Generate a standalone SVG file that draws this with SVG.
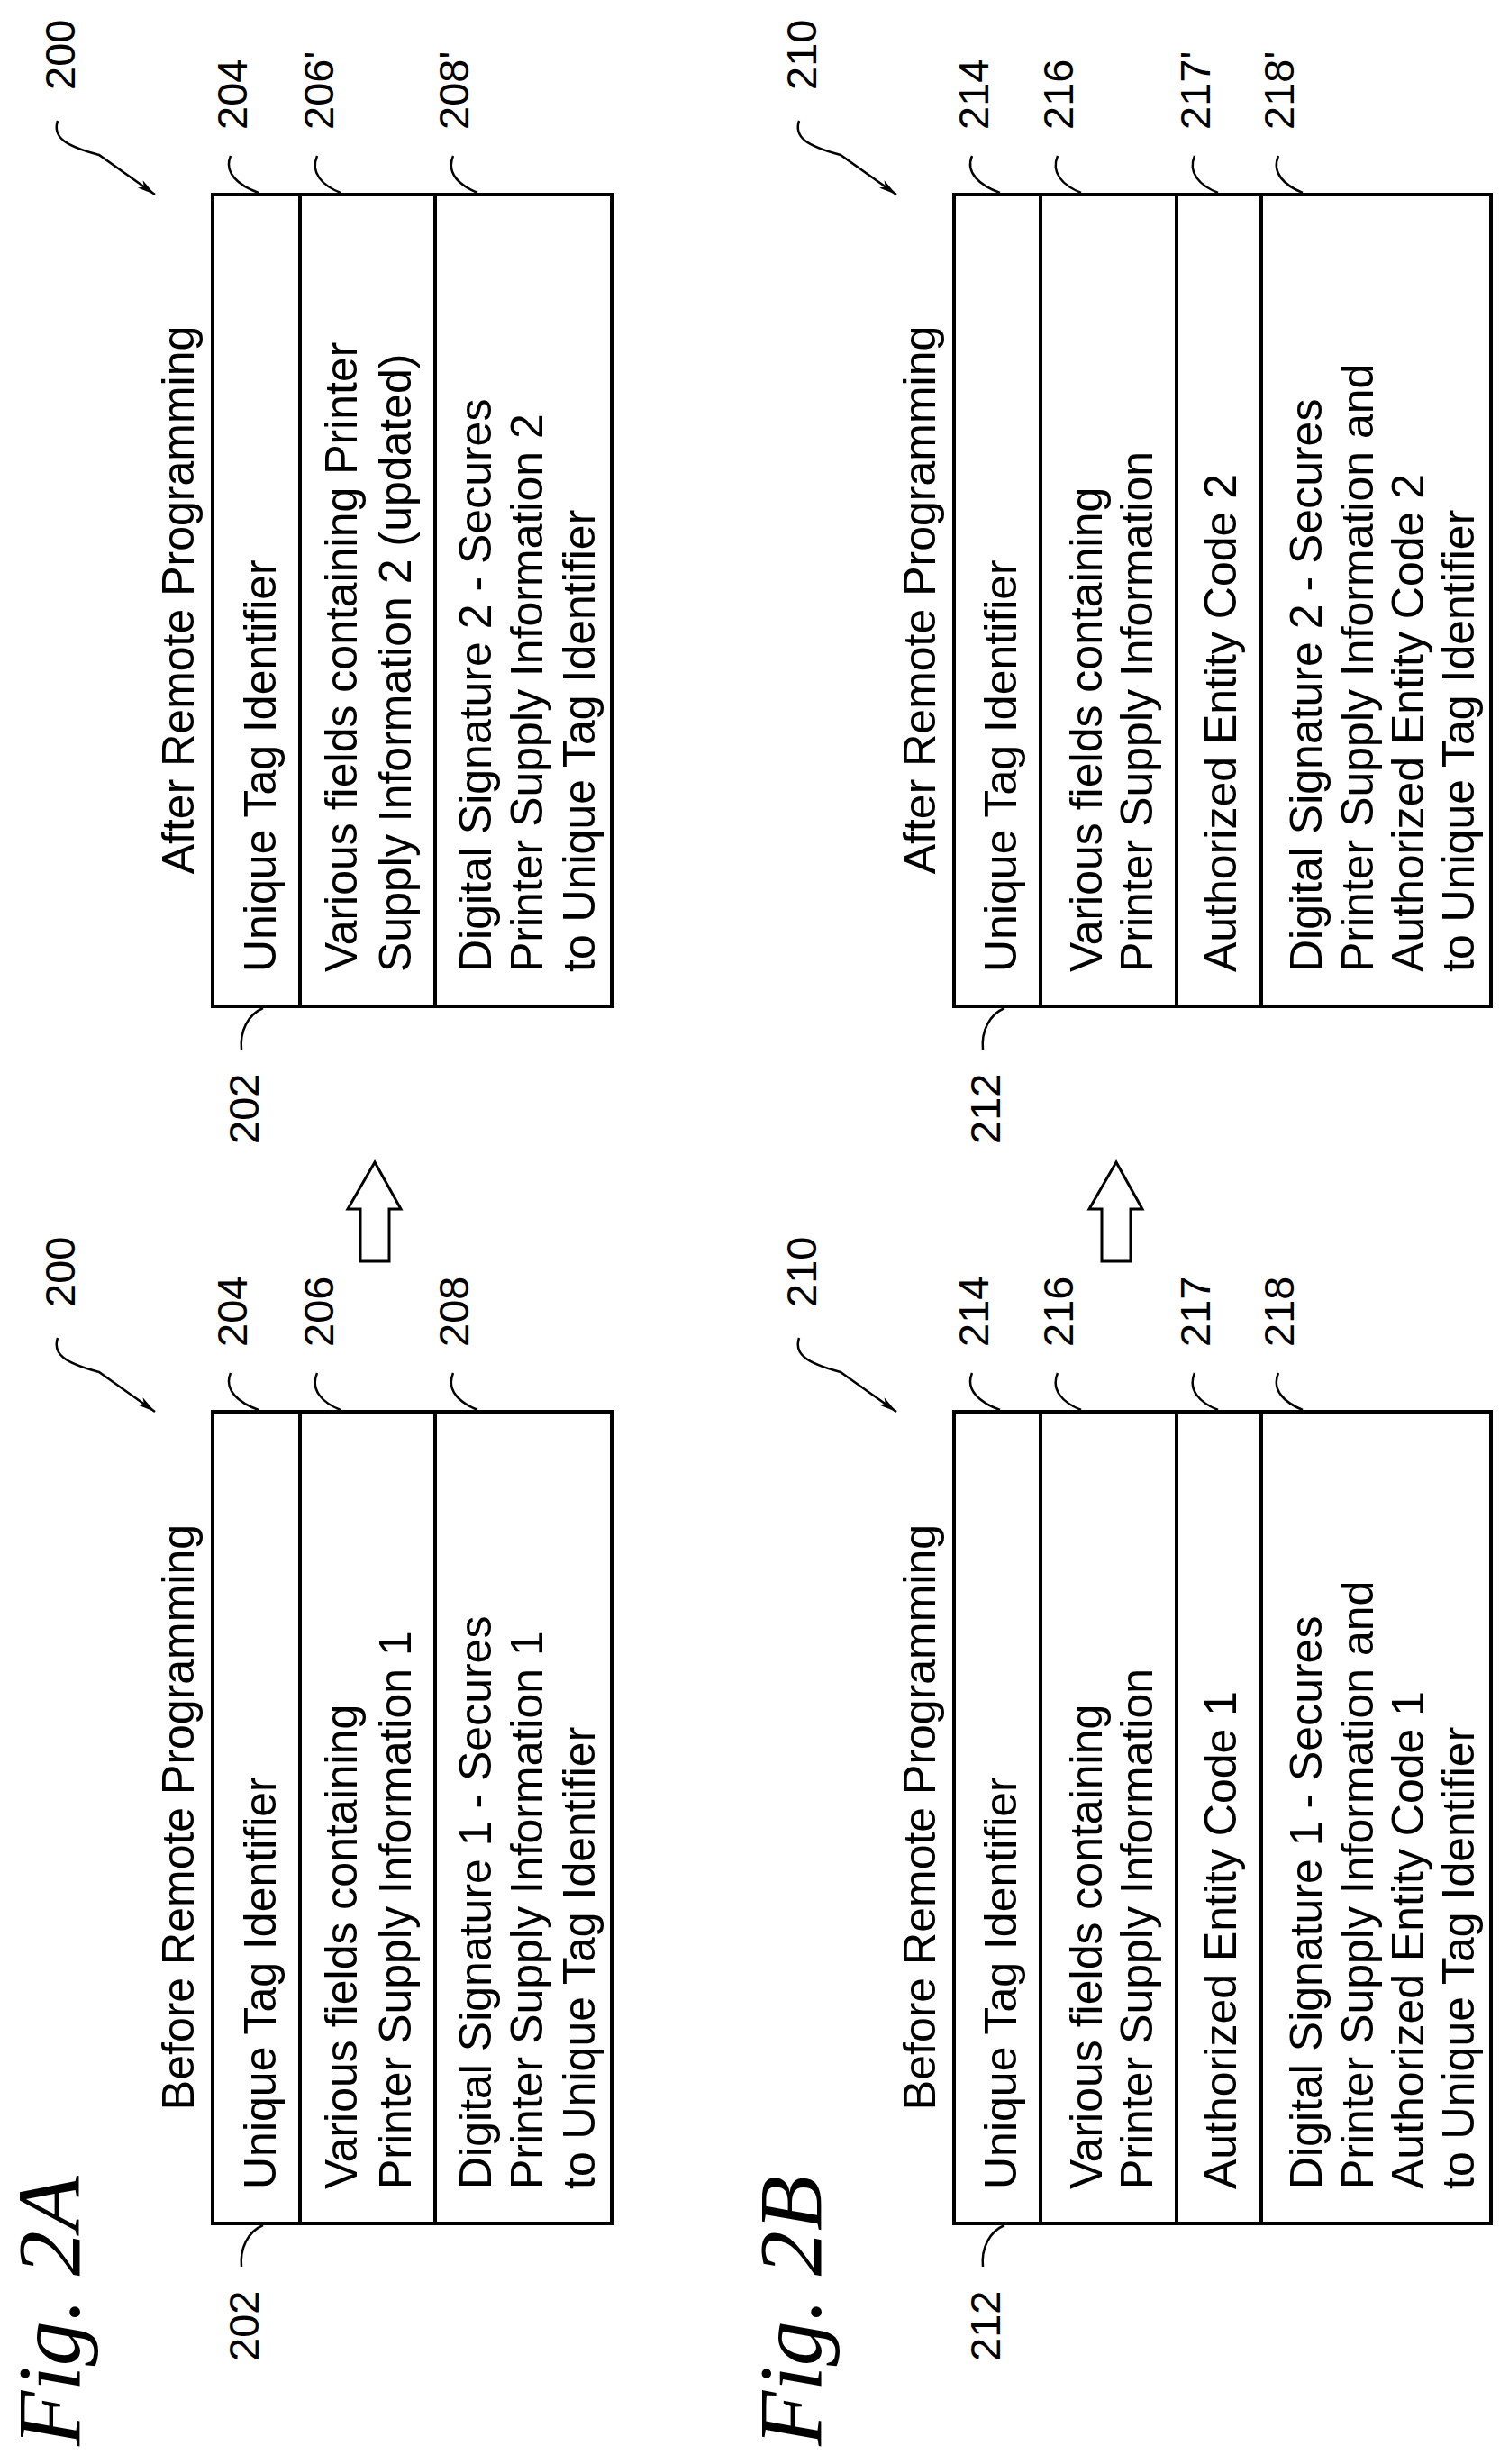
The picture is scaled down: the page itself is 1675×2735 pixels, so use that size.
<svg xmlns="http://www.w3.org/2000/svg" width="1675" height="2735" viewBox="0 0 1675 2735">
<style>
text{font-family:"Liberation Sans",Arial,sans-serif;fill:#000}
.t{font-size:50px}
.n{font-size:47px}
.fig{font-family:"Liberation Serif","Times New Roman",serif;font-style:italic;font-size:100px}
.box{fill:none;stroke:#000;stroke-width:4}
.ln{fill:none;stroke:#000;stroke-width:2.5}
.ar{fill:#fff;stroke:#000;stroke-width:3}
</style>
<defs>
<marker id="ah" viewBox="0 0 20 10" refX="20" refY="5" markerWidth="20" markerHeight="10" markerUnits="userSpaceOnUse" orient="auto"><path d="M0,0 L20,5 L0,10 L5,5 Z" fill="#000"/></marker>
</defs>
<rect width="1675" height="2735" fill="#fff"/>

<!-- Fig 2A After -->
<g id="fig2a-after">
<rect class="box" x="236" y="216" width="443" height="901"/>
<line class="box" x1="333" y1="216" x2="333" y2="1117"/>
<line class="box" x1="483" y1="216" x2="483" y2="1117"/>
<text class="t" text-anchor="middle" transform="translate(215,666) rotate(-90)">After Remote Programming</text>
<text class="t" transform="translate(306,1079) rotate(-90)">Unique Tag Identifier</text>
<text class="t" transform="translate(396,1079) rotate(-90)">Various fields containing Printer</text>
<text class="t" transform="translate(456,1079) rotate(-90)">Supply Information 2 (updated)</text>
<text class="t" transform="translate(545,1079) rotate(-90)">Digital Signature 2 - Secures</text>
<text class="t" transform="translate(602,1079) rotate(-90)">Printer Supply Information 2</text>
<text class="t" transform="translate(660,1079) rotate(-90)">to Unique Tag Identifier</text>
<text class="n" transform="translate(83,100) rotate(-90)">200</text>
<text class="n" transform="translate(274,144) rotate(-90)">204</text>
<text class="n" transform="translate(370,144) rotate(-90)">206'</text>
<text class="n" transform="translate(520,144) rotate(-90)">208'</text>
<text class="n" transform="translate(287,1270) rotate(-90)">202</text>
</g>

<!-- Fig 2A Before -->
<g id="fig2a-before" transform="translate(0,1351)">
<rect class="box" x="236" y="216" width="443" height="901"/>
<line class="box" x1="333" y1="216" x2="333" y2="1117"/>
<line class="box" x1="483" y1="216" x2="483" y2="1117"/>
<text class="t" text-anchor="middle" transform="translate(215,666) rotate(-90)">Before Remote Programming</text>
<text class="t" transform="translate(306,1079) rotate(-90)">Unique Tag Identifier</text>
<text class="t" transform="translate(396,1079) rotate(-90)">Various fields containing</text>
<text class="t" transform="translate(456,1079) rotate(-90)">Printer Supply Information 1</text>
<text class="t" transform="translate(545,1079) rotate(-90)">Digital Signature 1 - Secures</text>
<text class="t" transform="translate(602,1079) rotate(-90)">Printer Supply Information 1</text>
<text class="t" transform="translate(660,1079) rotate(-90)">to Unique Tag Identifier</text>
<text class="n" transform="translate(83,100) rotate(-90)">200</text>
<text class="n" transform="translate(274,144) rotate(-90)">204</text>
<text class="n" transform="translate(370,144) rotate(-90)">206</text>
<text class="n" transform="translate(520,144) rotate(-90)">208</text>
<text class="n" transform="translate(287,1270) rotate(-90)">202</text>
</g>

<!-- Fig 2B After -->
<g id="fig2b-after" transform="translate(823,0)">
<rect class="box" x="236" y="216" width="596" height="901"/>
<line class="box" x1="332" y1="216" x2="332" y2="1117"/>
<line class="box" x1="483" y1="216" x2="483" y2="1117"/>
<line class="box" x1="577" y1="216" x2="577" y2="1117"/>
<text class="t" text-anchor="middle" transform="translate(215,666) rotate(-90)">After Remote Programming</text>
<text class="t" transform="translate(305,1079) rotate(-90)">Unique Tag Identifier</text>
<text class="t" transform="translate(400,1079) rotate(-90)">Various fields containing</text>
<text class="t" transform="translate(456,1079) rotate(-90)">Printer Supply Information</text>
<text class="t" transform="translate(549,1079) rotate(-90)">Authorized Entity Code 2</text>
<text class="t" transform="translate(644,1079) rotate(-90)">Digital Signature 2 - Secures</text>
<text class="t" transform="translate(701,1079) rotate(-90)">Printer Supply Information and</text>
<text class="t" transform="translate(757,1079) rotate(-90)">Authorized Entity Code 2</text>
<text class="t" transform="translate(813,1079) rotate(-90)">to Unique Tag Identifier</text>
<text class="n" transform="translate(83,100) rotate(-90)">210</text>
<text class="n" transform="translate(274,144) rotate(-90)">214</text>
<text class="n" transform="translate(368,144) rotate(-90)">216</text>
<text class="n" transform="translate(520,144) rotate(-90)">217'</text>
<text class="n" transform="translate(613,144) rotate(-90)">218'</text>
<text class="n" transform="translate(287,1270) rotate(-90)">212</text>
</g>

<!-- Fig 2B Before -->
<g id="fig2b-before" transform="translate(823,1351)">
<rect class="box" x="236" y="216" width="596" height="901"/>
<line class="box" x1="332" y1="216" x2="332" y2="1117"/>
<line class="box" x1="483" y1="216" x2="483" y2="1117"/>
<line class="box" x1="577" y1="216" x2="577" y2="1117"/>
<text class="t" text-anchor="middle" transform="translate(215,666) rotate(-90)">Before Remote Programming</text>
<text class="t" transform="translate(305,1079) rotate(-90)">Unique Tag Identifier</text>
<text class="t" transform="translate(400,1079) rotate(-90)">Various fields containing</text>
<text class="t" transform="translate(456,1079) rotate(-90)">Printer Supply Information</text>
<text class="t" transform="translate(549,1079) rotate(-90)">Authorized Entity Code 1</text>
<text class="t" transform="translate(644,1079) rotate(-90)">Digital Signature 1 - Secures</text>
<text class="t" transform="translate(701,1079) rotate(-90)">Printer Supply Information and</text>
<text class="t" transform="translate(757,1079) rotate(-90)">Authorized Entity Code 1</text>
<text class="t" transform="translate(813,1079) rotate(-90)">to Unique Tag Identifier</text>
<text class="n" transform="translate(83,100) rotate(-90)">210</text>
<text class="n" transform="translate(274,144) rotate(-90)">214</text>
<text class="n" transform="translate(368,144) rotate(-90)">216</text>
<text class="n" transform="translate(520,144) rotate(-90)">217</text>
<text class="n" transform="translate(613,144) rotate(-90)">218</text>
<text class="n" transform="translate(287,1270) rotate(-90)">212</text>
</g>

<g id="connectors">
<!-- 2A After -->
<path class="ln" d="M64,134 C58,152 72,162 110,172 L172,216" marker-end="url(#ah)"/>
<path class="ln" d="M256,173 C248,192 265,206 287,214"/>
<path class="ln" d="M352,173 C344,192 358,206 378,214"/>
<path class="ln" d="M503,173 C495,192 510,206 530,214"/>
<path class="ln" d="M292,1119 C275,1126 266,1145 268,1165"/>
<!-- 2A Before -->
<path class="ln" d="M64,1485 C58,1503 72,1513 110,1523 L172,1567" marker-end="url(#ah)"/>
<path class="ln" d="M256,1524 C248,1543 265,1557 287,1565"/>
<path class="ln" d="M352,1524 C344,1543 358,1557 378,1565"/>
<path class="ln" d="M503,1524 C495,1543 510,1557 530,1565"/>
<path class="ln" d="M292,2470 C275,2477 266,2496 268,2516"/>
<!-- 2B After -->
<path class="ln" d="M887,134 C881,152 895,162 933,172 L995,216" marker-end="url(#ah)"/>
<path class="ln" d="M1079,173 C1071,192 1088,206 1110,214"/>
<path class="ln" d="M1174,173 C1166,192 1180,206 1200,214"/>
<path class="ln" d="M1326,173 C1318,192 1332,206 1352,214"/>
<path class="ln" d="M1419,173 C1411,192 1426,206 1446,214"/>
<path class="ln" d="M1115,1119 C1098,1126 1089,1145 1091,1165"/>
<!-- 2B Before -->
<path class="ln" d="M887,1485 C881,1503 895,1513 933,1523 L995,1567" marker-end="url(#ah)"/>
<path class="ln" d="M1079,1524 C1071,1543 1088,1557 1110,1565"/>
<path class="ln" d="M1174,1524 C1166,1543 1180,1557 1200,1565"/>
<path class="ln" d="M1326,1524 C1318,1543 1332,1557 1352,1565"/>
<path class="ln" d="M1419,1524 C1411,1543 1426,1557 1446,1565"/>
<path class="ln" d="M1115,2470 C1098,2477 1089,2496 1091,2516"/>
<!-- hollow arrows -->
<polygon class="ar" points="416,1290 445,1342 432,1342 432,1400 400,1400 400,1342 386,1342"/>
<polygon class="ar" points="1239,1290 1268,1342 1255,1342 1255,1400 1223,1400 1223,1342 1209,1342"/>
</g>

<text class="fig" transform="translate(88,2715) rotate(-90)">Fig. 2A</text>
<text class="fig" transform="translate(911,2715) rotate(-90)">Fig. 2B</text>
</svg>
